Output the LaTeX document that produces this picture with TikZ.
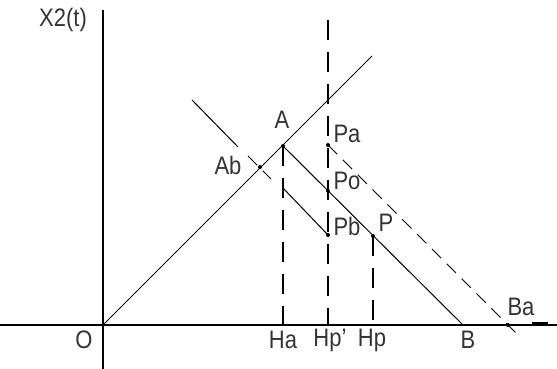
\documentclass[tikz,border=0pt]{standalone}
\usepackage{fontspec}
\setmainfont{Liberation Sans}
\newcommand{\tallt}[1]{\scalebox{1}[1.15]{#1}}
\begin{document}
\begin{tikzpicture}[x=1pt,y=-1pt,
  lbl/.style={font=\fontsize{22}{24}\selectfont, inner sep=0pt, text=black!80},
  ax/.style={line width=1.6pt},
  ln/.style={line width=1pt},
  vdash/.style={line width=1.1pt, dash pattern=on 20pt off 12pt},
  ddash/.style={line width=1pt, dash pattern=on 13pt off 8pt},
  pt/.style={circle, fill, inner sep=0pt, minimum size=4pt}]
\useasboundingbox (0,0) rectangle (557,369);
% axes
\coordinate (xl) at (0,325);
\coordinate (xr) at (557,325);
\coordinate (yt) at (103,10);
\coordinate (yb) at (103,369);
\coordinate (O) at (103,325);
\draw[ax] (xl) -- (xr);
\draw[ax] (yt) -- (yb);
\coordinate (xa1) at (532,323);
\coordinate (xa2) at (548,323);
\draw[line width=2.4pt] (xa1) -- (xa2);
\coordinate (ya1) at (103,11);
\coordinate (ya2) at (103,30);
\draw[line width=2.6pt] (ya1) -- (ya2);
% points
\node[pt] (A) at (283,146) {};
\node[pt] (Ab) at (260,167) {};
\node[pt] (Pa) at (328,145) {};
\node[pt] (Po) at (328,191) {};
\node[pt] (Pb) at (328,235) {};
\node[pt] (P) at (373,236) {};
\node[pt] (Bad) at (508,325) {};
\coordinate (B) at (463,325);
\coordinate (E) at (372,56);
\coordinate (Ha) at (283,325);
\coordinate (Hpp) at (328,325);
\coordinate (Hp) at (373,325);
\coordinate (Hpt) at (328,20);
\coordinate (L1) at (192,100);
\coordinate (L2) at (238,147);
\coordinate (D1) at (248,156);
\coordinate (D2) at (271,179);
\coordinate (Q) at (283,188);
\coordinate (Baend) at (518,335);
% solid lines
\draw[ln] (O) -- (E);
\draw[ln] (A.center) -- (B);
\draw[ln] (L1) -- (L2);
\draw[ln] (Q) -- (Pb.center);
% dashed lines
\draw[ddash] (D1) -- (D2);
\draw[vdash] (A.center) -- (Ha);
\draw[vdash] (Hpt) -- (Hpp);
\draw[vdash] (P.center) -- (Hp);
\draw[ddash] (Pa.center) -- (Baend);
% labels
\node[lbl] at (63,20) {\tallt{X2(t)}};
\node[lbl] at (282,120) {\tallt{A}};
\node[lbl] at (228,165) {\tallt{Ab}};
\node[lbl] at (347,134) {\tallt{Pa}};
\node[lbl] at (347,181) {\tallt{Po}};
\node[lbl] at (347,226) {\tallt{Pb}};
\node[lbl] at (386,223) {\tallt{P}};
\node[lbl] at (521,307) {\tallt{Ba}};
\node[lbl] at (84,340) {\tallt{O}};
\node[lbl] at (283,340) {\tallt{Ha}};
\node[lbl] at (330,340) {\tallt{Hp'}};
\node[lbl] at (372,340) {\tallt{Hp}};
\node[lbl] at (468,340) {\tallt{B}};
\end{tikzpicture}
\end{document}
